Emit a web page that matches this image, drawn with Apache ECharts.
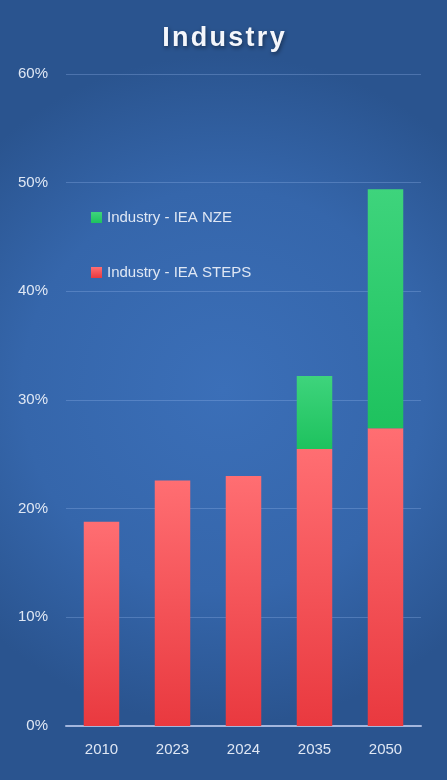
<!DOCTYPE html>
<html>
<head>
<meta charset="utf-8">
<script src="https://cdn.jsdelivr.net/npm/echarts@6/dist/echarts.min.js"></script>
<style>
  html, body { margin: 0; padding: 0; }
  #chart { width: 447px; height: 780px; }
</style>
</head>
<body>
<div id="chart"></div>
<script>
  // categories and values (percent)
  var years = ['2010', '2023', '2024', '2035', '2050'];
  var stepsValues = [18.8, 22.6, 23.0, 25.5, 27.4];
  // NZE part stacked on top of STEPS
  var nzeExtra = [null, null, null, 6.7, 22.0];
  var yTicks = [0, 10, 20, 30, 40, 50, 60];

  var chart = echarts.init(document.getElementById('chart'));
  var labelColor = '#dfe7f4';
  var font = 'Liberation Sans';

  chart.setOption({
    backgroundColor: {
      type: 'radial', x: 0.5, y: 0.5, r: 0.75,
      colorStops: [
        { offset: 0, color: '#3b6fb8' },
        { offset: 0.6, color: '#3566ab' },
        { offset: 1, color: '#2a548f' }
      ]
    },
    title: {
      // hair spaces to widen the letter spacing like the original
      text: 'I\u200An\u200Ad\u200Au\u200As\u200At\u200Ar\u200Ay',
      left: 'center',
      top: 20,
      textStyle: {
        color: '#f4f6fb',
        fontSize: 27,
        fontWeight: 'bold',
        fontFamily: font,
        textShadowColor: 'rgba(0,0,0,0.45)',
        textShadowBlur: 4,
        textShadowOffsetX: 1,
        textShadowOffsetY: 2
      }
    },
    legend: {
      orient: 'vertical',
      left: 86,
      top: 205,
      itemGap: 40,
      itemWidth: 11,
      itemHeight: 11,
      icon: 'rect',
      data: ['Industry - IEA NZE', 'Industry - IEA STEPS'],
      textStyle: { color: labelColor, fontSize: 15, fontFamily: font }
    },
    grid: { left: 66, right: 26, top: 74, bottom: 54 },
    xAxis: {
      type: 'category',
      data: years,
      axisTick: { show: false },
      axisLine: { lineStyle: { color: '#a3b6dd', width: 2 } },
      axisLabel: { color: labelColor, fontSize: 15, margin: 16, fontFamily: font }
    },
    yAxis: {
      type: 'value',
      min: yTicks[0],
      max: yTicks[yTicks.length - 1],
      interval: 10,
      axisLabel: {
        color: labelColor, fontSize: 15, margin: 18, fontFamily: font,
        formatter: '{value}%'
      },
      axisLine: { show: false },
      axisTick: { show: false },
      splitLine: { lineStyle: { color: 'rgba(140,175,230,0.35)', width: 1 } }
    },
    series: [
      {
        name: 'Industry - IEA STEPS',
        type: 'bar',
        stack: 'total',
        barWidth: '50%',
        data: stepsValues,
        itemStyle: {
          color: new echarts.graphic.LinearGradient(0, 0, 0, 1, [
            { offset: 0, color: '#ff6e72' },
            { offset: 1, color: '#e9393f' }
          ]),
          shadowColor: 'rgba(0,0,0,0.35)',
          shadowBlur: 6,
          shadowOffsetX: 2,
          shadowOffsetY: 0
        }
      },
      {
        name: 'Industry - IEA NZE',
        type: 'bar',
        stack: 'total',
        barWidth: '50%',
        data: nzeExtra,
        itemStyle: {
          color: new echarts.graphic.LinearGradient(0, 0, 0, 1, [
            { offset: 0, color: '#3ed47c' },
            { offset: 1, color: '#1ec25e' }
          ]),
          shadowColor: 'rgba(0,0,0,0.35)',
          shadowBlur: 6,
          shadowOffsetX: 2,
          shadowOffsetY: 0
        }
      }
    ]
  });
</script>
</body>
</html>
